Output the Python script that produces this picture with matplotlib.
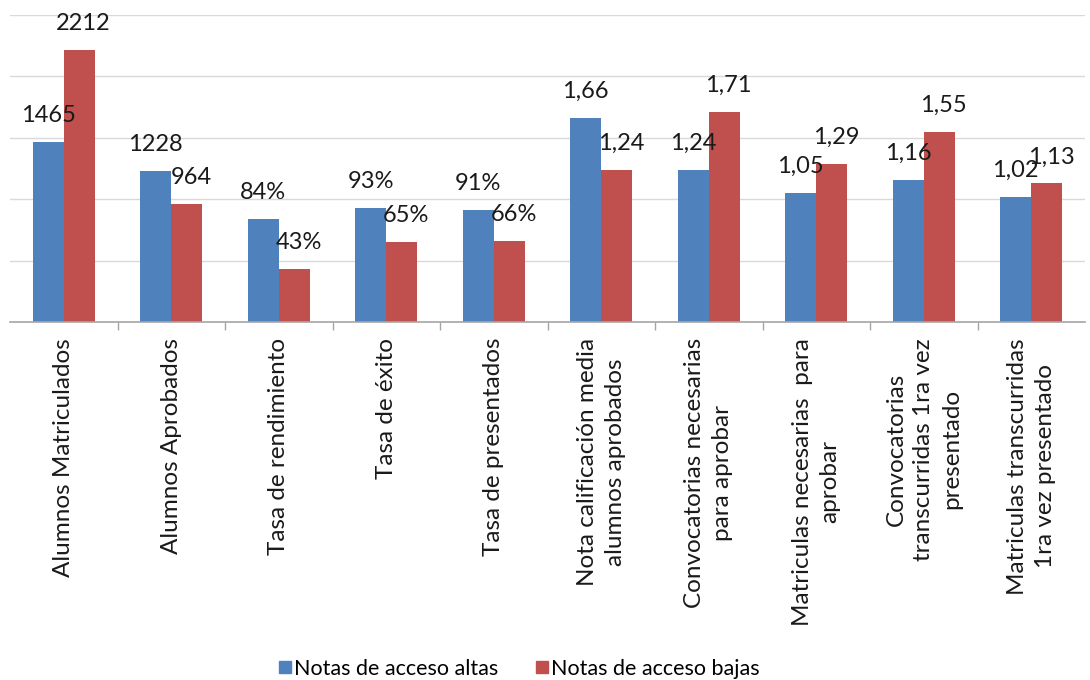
import matplotlib
matplotlib.use("Agg")
import matplotlib.pyplot as plt
from matplotlib.lines import Line2D
import numpy as np

categories = [
    "Alumnos Matriculados",
    "Alumnos Aprobados",
    "Tasa de rendimiento",
    "Tasa de éxito",
    "Tasa de presentados",
    "Nota calificación media\nalumnos aprobados",
    "Convocatorias necesarias\npara aprobar",
    "Matriculas necesarias  para\naprobar",
    "Convocatorias\ntranscurridas 1ra vez\npresentado",
    "Matriculas transcurridas\n1ra vez presentado",
]
# plotted bar heights (as drawn in the original sheet)
altas = [1465, 1228, 840, 930, 910, 1660, 1240, 1050, 1160, 1020]
bajas = [2212, 964, 430, 650, 660, 1240, 1710, 1290, 1550, 1130]
# data labels shown on the bars
altas_labels = ["1465", "1228", "84%", "93%", "91%", "1,66", "1,24", "1,05", "1,16", "1,02"]
bajas_labels = ["2212", "964", "43%", "65%", "66%", "1,24", "1,71", "1,29", "1,55", "1,13"]
series_names = ["Notas de acceso altas", "Notas de acceso bajas"]

BLUE = "#4F81BD"
RED = "#C0504D"
FONT = "Lato"
TXT = "#1a1a1a"

plt.rcParams["font.family"] = [FONT, "DejaVu Sans"]

fig = plt.figure(figsize=(10.9, 6.8), dpi=100)
ax = fig.add_axes([10 / 1090, (680 - 322) / 680, 1075 / 1090, 307 / 680])

x = np.arange(len(categories))
w = 0.29
ax.bar(x - w / 2, altas, w, color=BLUE, zorder=3)
ax.bar(x + w / 2, bajas, w, color=RED, zorder=3)

for xi, v, lab in zip(x, altas, altas_labels):
    ax.annotate(lab, (xi - w / 2, v), xytext=(0, 19), textcoords="offset points",
                ha="center", va="center", fontsize=17, color=TXT, zorder=5)
for xi, v, lab in zip(x, bajas, bajas_labels):
    ax.annotate(lab, (xi + w / 2, v), xytext=(3, 19), textcoords="offset points",
                ha="center", va="center", fontsize=17, color=TXT, zorder=5)

ax.set_xlim(-0.5, len(categories) - 0.5)
ax.set_ylim(0, 2500)
ax.set_yticks(np.arange(0, 2501, 500))
ax.yaxis.grid(True, color="#d9d9d9", linewidth=1.0, zorder=0)
ax.tick_params(axis="y", left=False, labelleft=False)

for s in ["left", "right", "top"]:
    ax.spines[s].set_visible(False)
ax.spines["bottom"].set_color("#a6a6a6")
ax.spines["bottom"].set_linewidth(1.2)
ax.spines["bottom"].set_zorder(4)

# tick marks at category boundaries
ax.set_xticks(np.arange(0.5, len(categories) - 0.5, 1.0))
ax.set_xticklabels([])
ax.tick_params(axis="x", length=6, width=1.0, color="#a6a6a6", direction="out")

# category labels, rotated, anchored at top
for xi, cat in zip(x, categories):
    ax.text(xi, -16 / 307, cat, transform=ax.get_xaxis_transform(), rotation=90,
            ha="center", va="top", multialignment="center", fontsize=17.5,
            color=TXT, linespacing=1.4)

handles = [
    Line2D([0], [0], marker="s", linestyle="none", markersize=9, markerfacecolor=BLUE, markeredgecolor=BLUE),
    Line2D([0], [0], marker="s", linestyle="none", markersize=9, markerfacecolor=RED, markeredgecolor=RED),
]
fig.legend(handles, series_names, loc="center", bbox_to_anchor=(518 / 1090, 1 - 669 / 680),
           ncol=2, frameon=False, fontsize=15.5, handletextpad=0.05, columnspacing=1.6,
           handlelength=0.8)

fig.savefig("out.png", dpi=100)
